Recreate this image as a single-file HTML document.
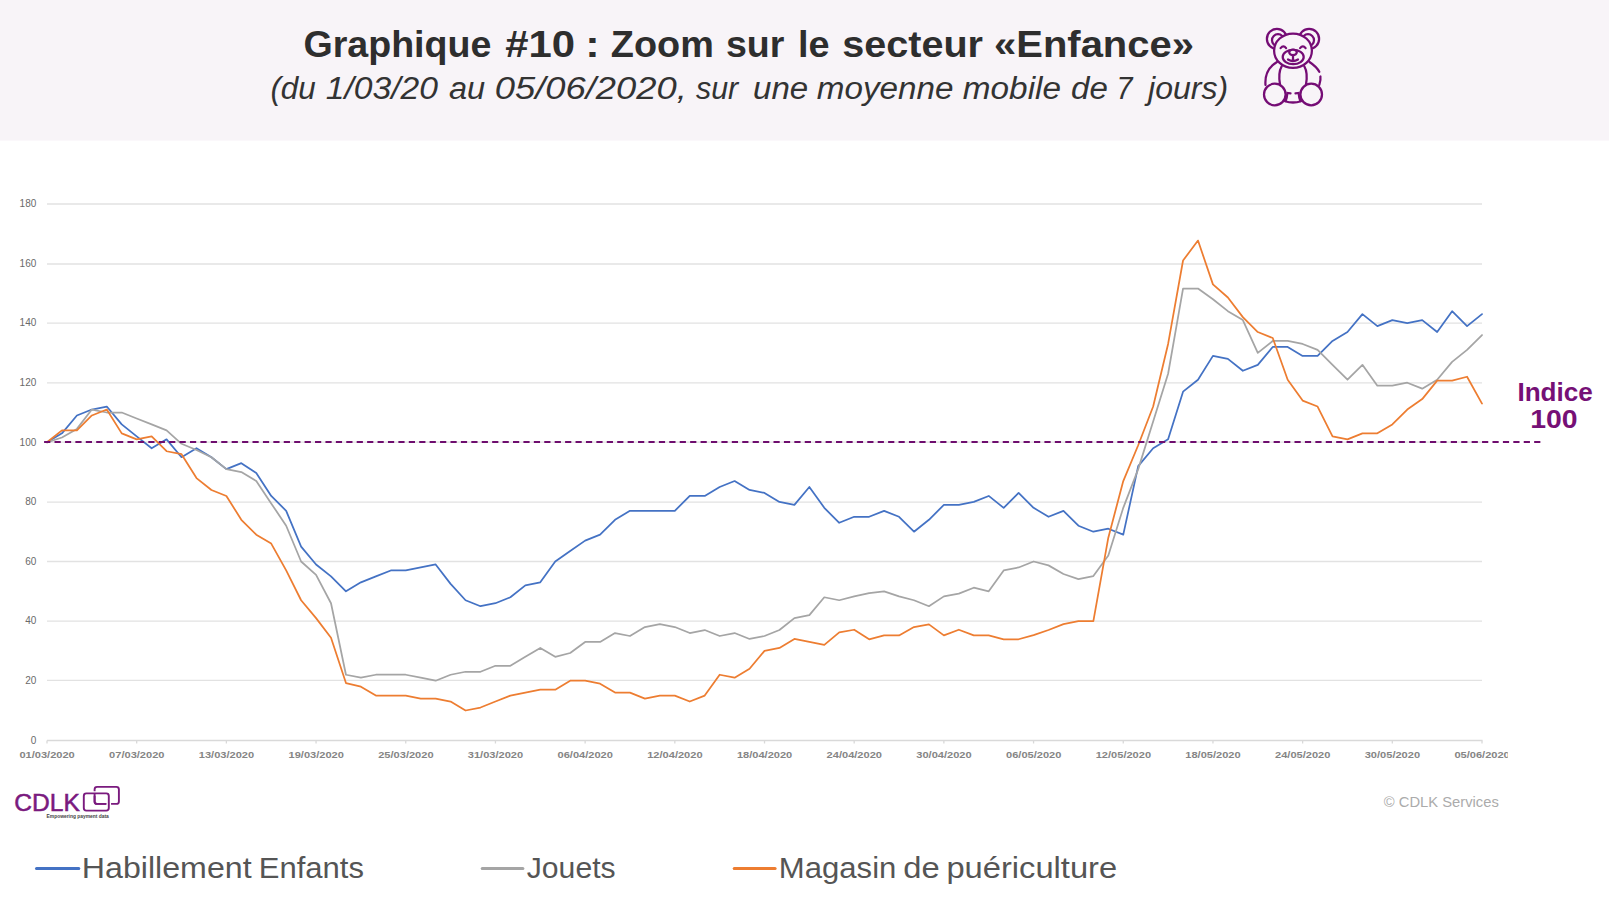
<!DOCTYPE html>
<html><head><meta charset="utf-8">
<style>
html,body{margin:0;padding:0;background:#fff;}
body{width:1609px;height:910px;overflow:hidden;position:relative;font-family:"Liberation Sans", sans-serif;}
svg{position:absolute;left:0;top:0;}
</style></head><body>
<svg width="1609" height="910" viewBox="0 0 1609 910" font-family='"Liberation Sans", sans-serif'>
<rect x="0" y="0" width="1609" height="140.6" fill="#f8f4f8"/>
<g font-size="37.6" font-weight="bold" fill="#2e2e2e"><text x="303.40" y="57.2" textLength="188.00" lengthAdjust="spacingAndGlyphs">Graphique</text><text x="505.20" y="57.2" textLength="69.80" lengthAdjust="spacingAndGlyphs">#10</text><text x="585.20" y="57.2" textLength="14.40" lengthAdjust="spacingAndGlyphs">:</text><text x="610.80" y="57.2" textLength="103.00" lengthAdjust="spacingAndGlyphs">Zoom</text><text x="726.00" y="57.2" textLength="58.40" lengthAdjust="spacingAndGlyphs">sur</text><text x="798.00" y="57.2" textLength="31.60" lengthAdjust="spacingAndGlyphs">le</text><text x="842.20" y="57.2" textLength="140.80" lengthAdjust="spacingAndGlyphs">secteur</text><text x="994.00" y="57.2" textLength="200.00" lengthAdjust="spacingAndGlyphs">«Enfance»</text></g><g font-size="31" font-style="italic" fill="#333"><text x="270.40" y="98.5" textLength="45.40" lengthAdjust="spacingAndGlyphs">(du</text><text x="325.80" y="98.5" textLength="112.20" lengthAdjust="spacingAndGlyphs">1/03/20</text><text x="449.00" y="98.5" textLength="36.20" lengthAdjust="spacingAndGlyphs">au</text><text x="494.80" y="98.5" textLength="192.00" lengthAdjust="spacingAndGlyphs">05/06/2020,</text><text x="696.00" y="98.5" textLength="42.20" lengthAdjust="spacingAndGlyphs">sur</text><text x="753.00" y="98.5" textLength="55.20" lengthAdjust="spacingAndGlyphs">une</text><text x="816.80" y="98.5" textLength="136.80" lengthAdjust="spacingAndGlyphs">moyenne</text><text x="962.80" y="98.5" textLength="98.20" lengthAdjust="spacingAndGlyphs">mobile</text><text x="1071.00" y="98.5" textLength="36.80" lengthAdjust="spacingAndGlyphs">de</text><text x="1116.40" y="98.5" textLength="16.00" lengthAdjust="spacingAndGlyphs">7</text><text x="1148.00" y="98.5" textLength="80.20" lengthAdjust="spacingAndGlyphs">jours)</text></g>
<g id="bear" fill="none" stroke="#750c75" stroke-width="2.25" stroke-linecap="round">
<circle cx="1276.9" cy="38.9" r="10"/><circle cx="1278" cy="40.2" r="6"/>
<circle cx="1309.1" cy="38.9" r="10"/><circle cx="1308" cy="40.2" r="6"/>
<path d="M1277,62 C1270,66 1264.5,72 1265.5,85"/>
<path d="M1309.5,62 C1314,65 1317.5,68.5 1319.3,71.8 M1320.4,76.5 C1320.8,79 1320.3,82 1319.3,85"/>
<path d="M1281.7,66.3 C1279,71 1278.5,76 1280,84.5 M1304.3,66.3 C1307,71 1307.5,76 1306,84.5"/>
<ellipse cx="1293" cy="50.7" rx="18.9" ry="17.2" fill="#f8f4f8"/>
<circle cx="1274.8" cy="94.5" r="10.8" fill="#f8f4f8"/>
<circle cx="1311.2" cy="94.5" r="10.8" fill="#f8f4f8"/>
<path d="M1285,101.2 Q1293,103.8 1301,101.2"/>
<path d="M1290.5,93.3 L1287.4,93 Q1287,98 1285.6,101 M1295.5,93.3 L1298.6,93 Q1299,98 1300.4,101"/>
<path d="M1280.6,48.1 Q1283.4,44.6 1286.1,48.1 M1300.1,48.1 Q1302.9,44.6 1305.6,48.1"/>
<ellipse cx="1293.2" cy="57" rx="10.5" ry="7.2"/>
<ellipse cx="1293" cy="52.3" rx="3.8" ry="2.8" fill="#f8f4f8"/>
<path d="M1293,55.3 L1293,60.3 M1288,59.5 Q1293,62.5 1298,59.5"/>
</g>
<g stroke="#e2e2e2" stroke-width="1.3"><line x1="47" y1="680.40" x2="1482" y2="680.40"/><line x1="47" y1="621.10" x2="1482" y2="621.10"/><line x1="47" y1="561.50" x2="1482" y2="561.50"/><line x1="47" y1="502.20" x2="1482" y2="502.20"/><line x1="47" y1="442.10" x2="1482" y2="442.10"/><line x1="47" y1="382.80" x2="1482" y2="382.80"/><line x1="47" y1="323.10" x2="1482" y2="323.10"/><line x1="47" y1="264.00" x2="1482" y2="264.00"/><line x1="47" y1="204.00" x2="1482" y2="204.00"/></g>
<g stroke="#d9d9d9" stroke-width="1.3"><line x1="47" y1="740.5" x2="1482.5" y2="740.5"/><line x1="47.0" y1="740.5" x2="47.0" y2="743.5"/><line x1="136.688" y1="740.5" x2="136.688" y2="743.5"/><line x1="226.376" y1="740.5" x2="226.376" y2="743.5"/><line x1="316.064" y1="740.5" x2="316.064" y2="743.5"/><line x1="405.752" y1="740.5" x2="405.752" y2="743.5"/><line x1="495.44" y1="740.5" x2="495.44" y2="743.5"/><line x1="585.128" y1="740.5" x2="585.128" y2="743.5"/><line x1="674.816" y1="740.5" x2="674.816" y2="743.5"/><line x1="764.504" y1="740.5" x2="764.504" y2="743.5"/><line x1="854.192" y1="740.5" x2="854.192" y2="743.5"/><line x1="943.88" y1="740.5" x2="943.88" y2="743.5"/><line x1="1033.568" y1="740.5" x2="1033.568" y2="743.5"/><line x1="1123.256" y1="740.5" x2="1123.256" y2="743.5"/><line x1="1212.944" y1="740.5" x2="1212.944" y2="743.5"/><line x1="1302.632" y1="740.5" x2="1302.632" y2="743.5"/><line x1="1392.32" y1="740.5" x2="1392.32" y2="743.5"/><line x1="1482.008" y1="740.5" x2="1482.008" y2="743.5"/></g>
<g font-size="10" fill="#6a6a6a" text-anchor="end"><text x="36.3" y="743.5">0</text><text x="36.3" y="683.9">20</text><text x="36.3" y="624.3">40</text><text x="36.3" y="564.7">60</text><text x="36.3" y="505.1">80</text><text x="36.3" y="445.5">100</text><text x="36.3" y="385.9">120</text><text x="36.3" y="326.3">140</text><text x="36.3" y="266.7">160</text><text x="36.3" y="207.1">180</text></g>
<clipPath id="xc"><rect x="0" y="740" width="1507.8" height="30"/></clipPath><g font-size="9.8" font-weight="bold" fill="#858585" clip-path="url(#xc)"><text x="19.4" y="757.8" textLength="55.4" lengthAdjust="spacingAndGlyphs">01/03/2020</text><text x="109.1" y="757.8" textLength="55.4" lengthAdjust="spacingAndGlyphs">07/03/2020</text><text x="198.8" y="757.8" textLength="55.4" lengthAdjust="spacingAndGlyphs">13/03/2020</text><text x="288.5" y="757.8" textLength="55.4" lengthAdjust="spacingAndGlyphs">19/03/2020</text><text x="378.2" y="757.8" textLength="55.4" lengthAdjust="spacingAndGlyphs">25/03/2020</text><text x="467.8" y="757.8" textLength="55.4" lengthAdjust="spacingAndGlyphs">31/03/2020</text><text x="557.5" y="757.8" textLength="55.4" lengthAdjust="spacingAndGlyphs">06/04/2020</text><text x="647.2" y="757.8" textLength="55.4" lengthAdjust="spacingAndGlyphs">12/04/2020</text><text x="736.9" y="757.8" textLength="55.4" lengthAdjust="spacingAndGlyphs">18/04/2020</text><text x="826.6" y="757.8" textLength="55.4" lengthAdjust="spacingAndGlyphs">24/04/2020</text><text x="916.3" y="757.8" textLength="55.4" lengthAdjust="spacingAndGlyphs">30/04/2020</text><text x="1006.0" y="757.8" textLength="55.4" lengthAdjust="spacingAndGlyphs">06/05/2020</text><text x="1095.7" y="757.8" textLength="55.4" lengthAdjust="spacingAndGlyphs">12/05/2020</text><text x="1185.3" y="757.8" textLength="55.4" lengthAdjust="spacingAndGlyphs">18/05/2020</text><text x="1275.0" y="757.8" textLength="55.4" lengthAdjust="spacingAndGlyphs">24/05/2020</text><text x="1364.7" y="757.8" textLength="55.4" lengthAdjust="spacingAndGlyphs">30/05/2020</text><text x="1454.4" y="757.8" textLength="55.4" lengthAdjust="spacingAndGlyphs">05/06/2020</text></g>
<g fill="none" stroke-width="1.75" stroke-linejoin="round" stroke-linecap="round">
<polyline stroke="#4472c4" points="47.00,442.30 61.95,433.36 76.90,415.48 91.84,409.52 106.79,406.54 121.74,424.42 136.69,436.34 151.64,448.26 166.58,439.32 181.53,457.20 196.48,448.26 211.43,457.20 226.38,469.12 241.32,463.16 256.27,472.99 271.22,495.94 286.17,510.84 301.12,546.60 316.06,564.48 331.01,576.40 345.96,591.30 360.91,582.36 375.86,576.40 390.80,570.44 405.75,570.44 420.70,567.46 435.65,564.48 450.60,583.85 465.54,600.24 480.49,606.20 495.44,603.22 510.39,597.26 525.34,585.34 540.28,582.36 555.23,561.50 570.18,551.07 585.13,540.64 600.08,534.68 615.02,519.78 629.97,510.84 644.92,510.84 659.87,510.84 674.82,510.84 689.76,495.94 704.71,495.94 719.66,487.00 734.61,481.04 749.56,489.98 764.50,492.96 779.45,501.90 794.40,504.88 809.35,487.00 824.30,507.86 839.24,522.76 854.19,516.80 869.14,516.80 884.09,510.84 899.04,516.80 913.98,531.70 928.93,519.78 943.88,504.88 958.83,504.88 973.78,501.90 988.72,495.94 1003.67,507.86 1018.62,492.96 1033.57,507.86 1048.52,516.80 1063.46,510.84 1078.41,525.74 1093.36,531.70 1108.31,528.72 1123.26,534.68 1138.20,466.14 1153.15,448.26 1168.10,439.32 1183.05,391.64 1198.00,379.72 1212.94,355.88 1227.89,358.86 1242.84,370.78 1257.79,364.82 1272.74,346.94 1287.68,346.94 1302.63,355.88 1317.58,355.88 1332.53,340.98 1347.48,332.04 1362.42,314.16 1377.37,326.08 1392.32,320.12 1407.27,323.10 1422.22,320.12 1437.16,332.04 1452.11,311.18 1467.06,326.08 1482.01,314.16"/>
<polyline stroke="#a5a5a5" points="47.00,442.30 61.95,437.53 76.90,428.89 91.84,409.52 106.79,412.50 121.74,412.50 136.69,418.46 151.64,424.42 166.58,430.38 181.53,443.79 196.48,450.05 211.43,457.20 226.38,469.12 241.32,472.10 256.27,481.04 271.22,503.39 286.17,525.74 301.12,561.50 316.06,574.91 331.01,603.22 345.96,674.74 360.91,677.72 375.86,674.74 390.80,674.74 405.75,674.74 420.70,677.72 435.65,680.70 450.60,674.74 465.54,671.76 480.49,671.76 495.44,665.80 510.39,665.80 525.34,656.86 540.28,647.92 555.23,656.86 570.18,652.99 585.13,641.96 600.08,641.96 615.02,633.02 629.97,636.00 644.92,627.06 659.87,624.08 674.82,627.06 689.76,633.02 704.71,630.04 719.66,636.00 734.61,633.02 749.56,638.98 764.50,636.00 779.45,630.04 794.40,618.12 809.35,615.14 824.30,597.26 839.24,600.24 854.19,596.37 869.14,593.09 884.09,591.30 899.04,596.37 913.98,600.24 928.93,606.20 943.88,596.37 958.83,593.68 973.78,587.72 988.72,591.30 1003.67,570.44 1018.62,567.46 1033.57,561.50 1048.52,565.37 1063.46,574.02 1078.41,579.08 1093.36,576.10 1108.31,555.54 1123.26,507.86 1138.20,469.12 1153.15,421.44 1168.10,373.76 1183.05,288.53 1198.00,288.53 1212.94,299.26 1227.89,311.18 1242.84,320.12 1257.79,352.90 1272.74,340.98 1287.68,340.98 1302.63,343.96 1317.58,349.92 1332.53,364.82 1347.48,379.72 1362.42,364.82 1377.37,385.68 1392.32,385.68 1407.27,382.70 1422.22,388.66 1437.16,379.72 1452.11,361.84 1467.06,349.92 1482.01,335.02"/>
<polyline stroke="#ed7d31" points="47.00,442.30 61.95,430.38 76.90,430.38 91.84,415.48 106.79,409.52 121.74,433.36 136.69,439.32 151.64,436.34 166.58,451.24 181.53,454.22 196.48,478.06 211.43,489.98 226.38,495.94 241.32,519.78 256.27,534.68 271.22,543.62 286.17,570.44 301.12,600.24 316.06,618.12 331.01,637.79 345.96,683.08 360.91,686.66 375.86,695.60 390.80,695.60 405.75,695.60 420.70,698.58 435.65,698.58 450.60,701.56 465.54,710.50 480.49,707.52 495.44,701.56 510.39,695.60 525.34,692.62 540.28,689.64 555.23,689.64 570.18,680.70 585.13,680.70 600.08,683.68 615.02,692.62 629.97,692.62 644.92,698.58 659.87,695.60 674.82,695.60 689.76,701.56 704.71,695.60 719.66,674.74 734.61,677.72 749.56,668.78 764.50,650.90 779.45,647.92 794.40,638.98 809.35,641.96 824.30,644.94 839.24,632.42 854.19,629.74 869.14,639.28 884.09,635.40 899.04,635.40 913.98,627.06 928.93,624.38 943.88,635.40 958.83,629.74 973.78,635.40 988.72,635.40 1003.67,639.28 1018.62,639.28 1033.57,635.11 1048.52,630.04 1063.46,624.08 1078.41,621.10 1093.36,621.10 1108.31,537.66 1123.26,481.04 1138.20,445.28 1153.15,406.54 1168.10,343.96 1183.05,260.52 1198.00,240.55 1212.94,284.36 1227.89,297.47 1242.84,317.14 1257.79,332.04 1272.74,338.00 1287.68,379.72 1302.63,400.58 1317.58,406.54 1332.53,436.34 1347.48,439.32 1362.42,433.36 1377.37,433.36 1392.32,424.42 1407.27,409.52 1422.22,399.09 1437.16,380.61 1452.11,380.61 1467.06,376.74 1482.01,403.56"/>
</g>
<line x1="44.1" y1="442.1" x2="1540.5" y2="442.1" stroke="#6e0d6e" stroke-width="2" stroke-dasharray="6.2 4.22"/>
<g font-size="25.8" font-weight="bold" fill="#761076"><text x="1517.40" y="400.7" textLength="75.40" lengthAdjust="spacingAndGlyphs">Indice</text><text x="1530.20" y="428.1" textLength="47.40" lengthAdjust="spacingAndGlyphs">100</text></g>
<g font-size="15" fill="#ababab"><text x="1383.80" y="807.2" textLength="115.00" lengthAdjust="spacingAndGlyphs">© CDLK Services</text></g>
<g id="logo">
<g font-size="23.6" fill="#7a1a7e" stroke="#7a1a7e" stroke-width="0.5"><text x="14.20" y="810.6" textLength="65.60" lengthAdjust="spacingAndGlyphs">CDLK</text></g>
<rect x="94.6" y="786.9" width="24.3" height="17" rx="2.5" fill="none" stroke="#7a1a7e" stroke-width="1.9"/>
<rect x="83.8" y="793.4" width="25" height="17.2" rx="2.5" fill="none" stroke="#fff" stroke-width="4.5"/>
<rect x="83.8" y="793.4" width="25" height="17.2" rx="2.5" fill="none" stroke="#7a1a7e" stroke-width="1.9"/>
<path d="M94.6,793.4 L94.6,801.5 Q94.6,803.9 97,803.9 L106,803.9" fill="none" stroke="#7a1a7e" stroke-width="1.9"/>
<g font-size="5" font-weight="bold" fill="#444"><text x="46.60" y="817.8" textLength="62.20" lengthAdjust="spacingAndGlyphs">Empowering payment data</text></g>
</g>
<g id="legend" font-size="29" fill="#555">
<line x1="36.5" y1="868.6" x2="78.8" y2="868.6" stroke="#4472c4" stroke-width="3" stroke-linecap="round"/>
<text x="81.80" y="877.9" textLength="169.80" lengthAdjust="spacingAndGlyphs">Habillement</text><text x="258.80" y="877.9" textLength="105.20" lengthAdjust="spacingAndGlyphs">Enfants</text>
<line x1="482.2" y1="868.6" x2="522.9" y2="868.6" stroke="#a5a5a5" stroke-width="3" stroke-linecap="round"/>
<text x="526.80" y="877.9" textLength="88.80" lengthAdjust="spacingAndGlyphs">Jouets</text>
<line x1="734.2" y1="868.6" x2="775.1" y2="868.6" stroke="#ed7d31" stroke-width="3" stroke-linecap="round"/>
<text x="778.80" y="877.9" textLength="117.60" lengthAdjust="spacingAndGlyphs">Magasin</text><text x="903.20" y="877.9" textLength="36.40" lengthAdjust="spacingAndGlyphs">de</text><text x="946.40" y="877.9" textLength="170.80" lengthAdjust="spacingAndGlyphs">puériculture</text>
</g>
</svg>
</body></html>
